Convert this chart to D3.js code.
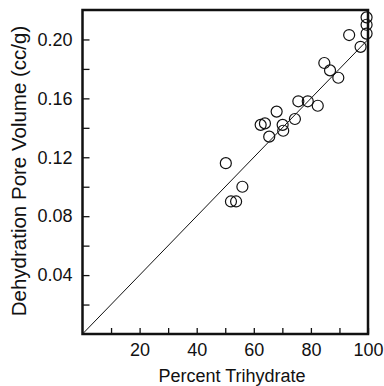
<!DOCTYPE html>
<html>
<head>
<meta charset="utf-8">
<script src="https://cdn.jsdelivr.net/npm/d3@7"></script>
<style>
  body { margin: 0; background: #fff; }
  text { font-family: "Liberation Sans", Arial, sans-serif; fill: #111; }
</style>
</head>
<body>
<script>
// Data
const trihydrate = [50.2, 56.0, 52.0, 53.8, 65.4, 62.4, 63.9, 70.1, 70.3, 68.0, 74.4,
  75.6, 78.9, 82.4, 84.7, 86.7, 89.6, 93.4, 97.4, 99.5, 99.5, 99.5];
const poreVolume = [0.116, 0.100, 0.090, 0.090, 0.134, 0.142, 0.143, 0.142, 0.138, 0.151, 0.146,
  0.158, 0.158, 0.155, 0.184, 0.179, 0.174, 0.203, 0.195, 0.215, 0.210, 0.204];
// fitted line (percent, cc/g)
const fitLine = [[0, 0], [100, 0.2]];

const xTicks = [10, 20, 30, 40, 50, 60, 70, 80, 90, 100];
const xLabels = [20, 40, 60, 80, 100];
const yTicks = [0.02, 0.04, 0.06, 0.08, 0.10, 0.12, 0.14, 0.16, 0.18, 0.20];
const yLabels = [0.04, 0.08, 0.12, 0.16, 0.20];

const margin = { top: 10, bottom: 52, left: 82.5, right: 16 };
const width = 384 - margin.left - margin.right;
const height = 386 - margin.top - margin.bottom;

const svg = d3
  .select("body")
  .append("svg")
  .attr("width", 384)
  .attr("height", 386);

const g = svg
  .append("g")
  .attr("transform", `translate(${margin.left},${margin.top})`);

// Scales
const xscale = d3.scaleLinear().domain([0, 100]).range([0, width]);
const yscale = d3.scaleLinear().domain([0, 0.22]).range([height, 0]);

// Axes, ticks pointing inward
const xaxis = d3
  .axisBottom(xscale)
  .tickValues(xTicks)
  .tickSize(-6)
  .tickPadding(9)
  .tickFormat((d) => (xLabels.includes(d) ? d : ""));
const yaxis = d3
  .axisLeft(yscale)
  .tickValues(yTicks)
  .tickSize(-7)
  .tickPadding(10)
  .tickFormat((d) => (yLabels.some((v) => Math.abs(v - d) < 1e-9) ? d3.format(".2f")(d) : ""));

const g_xaxis = g.append("g").attr("transform", `translate(0,${height})`).call(xaxis);
const g_yaxis = g.append("g").call(yaxis);

[g_xaxis, g_yaxis].forEach((a) => {
  a.select(".domain").remove();
  a.selectAll("line").attr("stroke", "#111").attr("stroke-width", 1.3);
  a.selectAll("text").style("font-size", "18px").attr("fill", "#111");
});

// Frame
g.append("rect")
  .attr("x", 0)
  .attr("y", 0)
  .attr("width", width)
  .attr("height", height)
  .attr("fill", "none")
  .attr("stroke", "#111")
  .attr("stroke-width", 2.5);

// Fitted line
g.append("path")
  .datum(fitLine)
  .attr("fill", "none")
  .attr("stroke", "#111")
  .attr("stroke-width", 1)
  .attr("d", d3.line().x((d) => xscale(d[0])).y((d) => yscale(d[1])));

// Points
const points = trihydrate.map((t, i) => ({ x: t, y: poreVolume[i] }));
g.selectAll("circle")
  .data(points)
  .join("circle")
  .attr("cx", (d) => xscale(d.x))
  .attr("cy", (d) => yscale(d.y))
  .attr("r", 5.5)
  .attr("fill", "#fff")
  .attr("fill-opacity", 0)
  .attr("stroke", "#111")
  .attr("stroke-width", 1.2);

// Axis titles
svg.append("text")
  .attr("x", 232)
  .attr("y", 382)
  .attr("text-anchor", "middle")
  .style("font-size", "18px")
  .text("Percent Trihydrate");

svg.append("text")
  .attr("transform", "translate(26,171) rotate(-90)")
  .attr("text-anchor", "middle")
  .style("font-size", "20.5px")
  .text("Dehydration Pore Volume (cc/g)");
</script>
</body>
</html>
